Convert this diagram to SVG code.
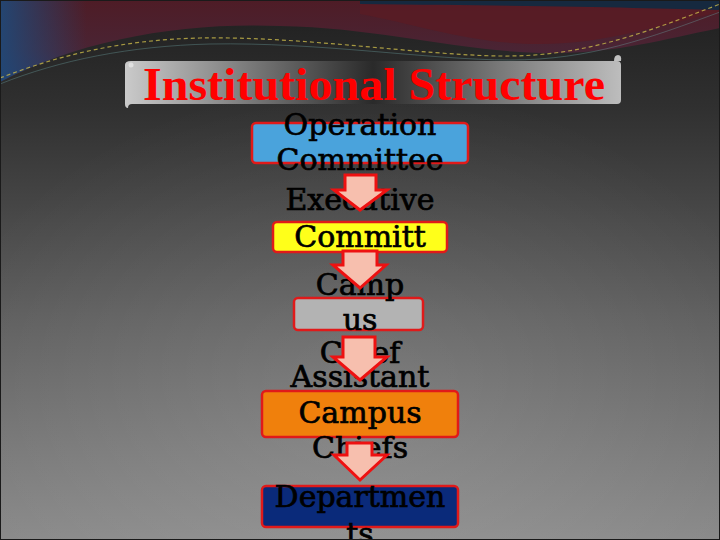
<svg xmlns="http://www.w3.org/2000/svg" width="720" height="540" viewBox="0 0 720 540">
  <defs>
    <linearGradient id="bg" x1="0" y1="0" x2="0" y2="1">
      <stop offset="0" stop-color="#1f1f1f"/>
      <stop offset="0.2" stop-color="#303030"/>
      <stop offset="0.6" stop-color="#606060"/>
      <stop offset="1" stop-color="#8a8a8a"/>
    </linearGradient>
    <radialGradient id="glow" cx="0.5" cy="0.75" r="0.6">
      <stop offset="0" stop-color="#ffffff" stop-opacity="0.12"/>
      <stop offset="1" stop-color="#ffffff" stop-opacity="0"/>
    </radialGradient>
    <linearGradient id="wave" x1="0" y1="0" x2="0" y2="1">
      <stop offset="0" stop-color="#4e1c26"/>
      <stop offset="0.6" stop-color="#4a2434"/>
      <stop offset="1" stop-color="#3a2c4c"/>
    </linearGradient>
    <linearGradient id="waveL" x1="0" y1="0" x2="1" y2="0">
      <stop offset="0" stop-color="#1f4a7a" stop-opacity="0.9"/>
      <stop offset="0.12" stop-color="#1f4a7a" stop-opacity="0"/>
    </linearGradient>
    <linearGradient id="banner" x1="0" y1="0" x2="1" y2="0">
      <stop offset="0" stop-color="#cacaca"/>
      <stop offset="0.25" stop-color="#7a7a7a"/>
      <stop offset="0.5" stop-color="#2a2a2a"/>
      <stop offset="0.75" stop-color="#777777"/>
      <stop offset="1" stop-color="#bdbdbd"/>
    </linearGradient>
    <style>
      .box { stroke: #e01a1a; stroke-width: 2.5; }
      .lbl { font-family: "DejaVu Serif", "Liberation Serif", serif; font-size: 30px; fill: #000; stroke: #000; stroke-width: 0.7; text-anchor: middle; }
      .arrow { fill: #f7bfae; stroke: #ee1111; stroke-width: 3; stroke-linejoin: miter; }
    </style>
  </defs>

  <!-- background -->
  <rect x="0" y="0" width="720" height="540" fill="url(#bg)"/>
  <rect x="0" y="0" width="720" height="540" fill="url(#glow)"/>

  <!-- top waves -->
  <path d="M0,0 H720 V28 C 660,40 610,55 540,53 C 450,50 380,28 280,26 C 180,22 80,40 0,82 Z" fill="url(#wave)"/>
  <path d="M0,0 H720 V28 C 660,40 610,55 540,53 C 450,50 380,28 280,26 C 180,22 80,40 0,82 Z" fill="url(#waveL)"/>
  <path d="M360,0 H720 V12 C 640,30 600,44 540,44 C 470,44 420,25 360,14 Z" fill="#5a1c24" opacity="0.8"/>
  <path d="M360,0 H720 V10 C 650,8 560,6 360,4 Z" fill="#16293f"/>
  <path d="M0,78 C 60,55 120,40 200,38 C 300,36 420,55 500,56 C 580,57 640,35 720,4" fill="none" stroke="#c8b84a" stroke-width="1.2" stroke-dasharray="4 3" opacity="0.8"/>
  <path d="M0,84 C 60,60 130,46 210,44 C 320,42 430,60 510,60 C 590,60 650,38 720,12" fill="none" stroke="#6a9a9a" stroke-width="0.8" opacity="0.5"/>

  <!-- title banner -->
  <g id="title">
    <path d="M131,61 H617 Q621,61 621,65 V100 Q621,104 617,104 H132 Q128,104 128,108 Q125,108 125,104 V65 Q125,61 131,61 Z" fill="url(#banner)"/>
    <circle cx="131" cy="65" r="2.5" fill="#e0e0e0"/>
    <path d="M614,61 Q614,55 618,55 Q622,55 621,61" fill="#c0c0c0"/>
    <text x="374" y="100" font-family="'Liberation Serif', 'Times New Roman', serif" font-weight="bold" font-size="47" fill="#ff0000" text-anchor="middle" textLength="462" lengthAdjust="spacingAndGlyphs">Institutional Structure</text>
  </g>

  <!-- nodes -->
  <g id="node-operation">
    <rect class="box" x="252" y="123" width="216" height="40" rx="4" fill="#4aa3dc"/>
    <text class="lbl" x="360" y="135">Operation</text>
    <text class="lbl" x="360" y="170">Committee</text>
  </g>
  <g id="node-executive">
    <rect class="box" x="273" y="222" width="174" height="30" rx="4" fill="#ffff1a"/>
    <text class="lbl" x="360" y="210">Executive</text>
    <text class="lbl" x="360" y="247">Committ</text>
  </g>
  <g id="node-campus-chief">
    <rect class="box" x="294" y="298" width="129" height="32" rx="4" fill="#b3b3b3"/>
    <text class="lbl" x="360" y="295">Camp</text>
    <text class="lbl" x="360" y="330">us</text>
    <text class="lbl" x="360" y="363">Chief</text>
  </g>
  <g id="node-assistant">
    <rect class="box" x="262" y="391" width="196" height="46" rx="4" fill="#f0800c"/>
    <text class="lbl" x="360" y="387">Assistant</text>
    <text class="lbl" x="360" y="423">Campus</text>
    <text class="lbl" x="360" y="458">Chiefs</text>
  </g>
  <g id="node-departments">
    <rect class="box" x="262" y="486" width="196" height="41" rx="4" fill="#0a2a7a"/>
    <text class="lbl" x="360" y="507">Departmen</text>
    <text class="lbl" x="360" y="544">ts</text>
  </g>

  <!-- connectors -->
  <g id="connectors">
    <path class="arrow" d="M345,175 H376 V190 H387 L360,210 L334,190 H345 Z"/>
    <path class="arrow" d="M343,251 H377 V265 H386 L360,288 L333,265 H343 Z"/>
    <path class="arrow" d="M343,337 H375 V357 H387 L360,380 L333,357 H343 Z"/>
    <path class="arrow" d="M347,443 H372 V455 H387 L360,480 L334,455 H347 Z"/>
  </g>

  <rect x="0.5" y="0.5" width="719" height="539" fill="none" stroke="#1a1a1a" stroke-width="1"/>
</svg>
